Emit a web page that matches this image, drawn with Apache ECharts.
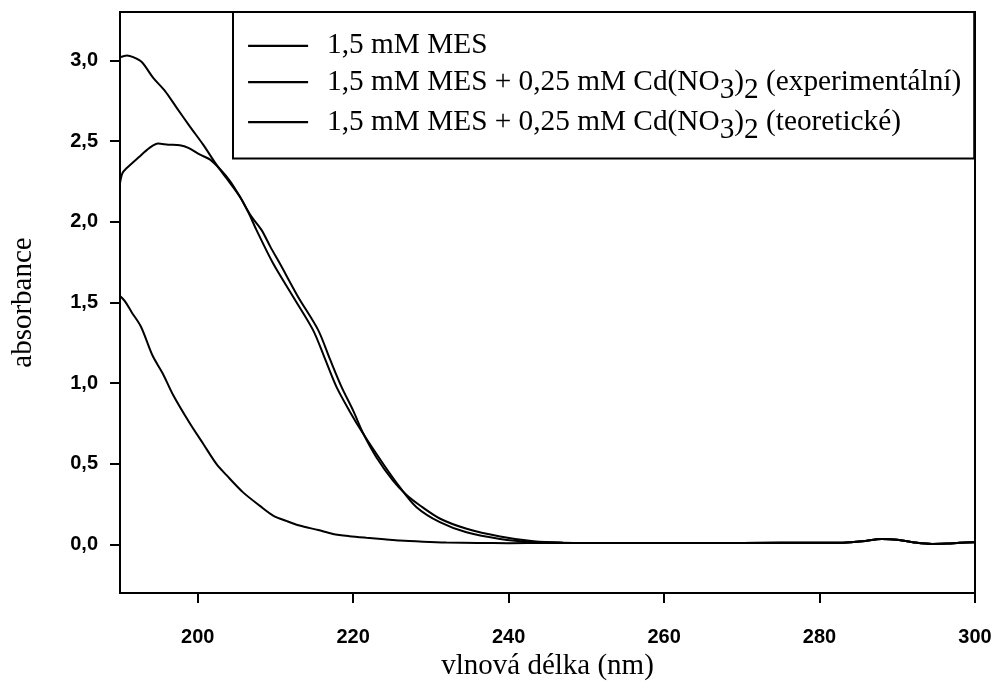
<!DOCTYPE html>
<html>
<head>
<meta charset="utf-8">
<script src="https://cdn.jsdelivr.net/npm/echarts@6/dist/echarts.min.js"></script>
<style>html,body{margin:0;padding:0;background:#fff}#c{width:1000px;height:692px}</style>
</head>
<body>
<div id="c"></div>
<script>
// ---- data ----
const seriesNames = [
  '1,5 mM MES',
  '1,5 mM MES + 0,25 mM Cd(NO3)2 (experimentální)',
  '1,5 mM MES + 0,25 mM Cd(NO3)2 (teoretické)'
];
const mesX = [190.0,190.6,191.5,192.7,194.2,195.5,196.8,199.0,200.7,202.4,203.7,205.8,208.0,209.7,211.5,213.1,215.5,217.4,219.5,221.7,224.0,226.0,229.0,232.0,236.0,240.0,245,255,265,275,283,285.5,288,290,292,294.5,296.5,298,300];
const mesY = [1.54,1.51,1.44,1.35,1.17,1.06,0.93,0.75,0.625,0.50,0.43,0.325,0.24,0.18,0.145,0.118,0.09,0.066,0.052,0.042,0.033,0.025,0.018,0.013,0.010,0.009,0.010,0.010,0.010,0.011,0.012,0.02,0.035,0.03,0.015,0.004,0.006,0.012,0.014];
const expX = [190.0,190.3,190.8,192.4,193.8,194.9,196.2,197.7,198.8,200.3,201.6,203.0,204.2,205.5,206.8,208.2,209.4,210.55,212.9,215.5,217.0,218.5,220.0,221.3,223.0,225.1,226.8,228.6,231.2,234.6,238.9,243.2,247,255,265,275,283,285.5,288,290,292,294.5,296.5,298,300];
const expY = [2.24,2.30,2.33,2.40,2.458,2.485,2.478,2.474,2.458,2.416,2.385,2.32,2.25,2.15,2.04,1.95,1.84,1.743,1.536,1.329,1.15,0.977,0.83,0.688,0.54,0.398,0.31,0.242,0.160,0.098,0.050,0.020,0.012,0.010,0.010,0.011,0.012,0.02,0.035,0.03,0.015,0.004,0.006,0.012,0.014];
const teoX = [190.0,190.9,191.7,192.8,194.3,195.8,197.3,199.0,200.7,202.4,203.7,205.4,206.5,207.55,209.69,212.27,214.84,216.3,217.85,219.5,221.27,223.85,226.0,228.15,231.15,234.58,238.9,243.15,247,255,265,275,283,285.5,288,290,292,294.5,296.5,298,300];
const teoY = [3.02,3.03,3.02,2.99,2.89,2.81,2.706,2.59,2.478,2.354,2.27,2.157,2.06,1.95,1.743,1.536,1.329,1.16,0.977,0.83,0.688,0.501,0.356,0.232,0.139,0.076,0.035,0.016,0.012,0.010,0.010,0.011,0.012,0.02,0.035,0.03,0.015,0.004,0.006,0.012,0.014];
const xTicks = [200,220,240,260,280,300];
const yTicks = [0,0.5,1.0,1.5,2.0,2.5,3.0];

const zip = (xs, ys) => xs.map((x, i) => [x, ys[i]]);
const legendRich = {
  '1,5 mM MES': '{f|1,5 mM MES}',
  '1,5 mM MES + 0,25 mM Cd(NO3)2 (experimentální)': '{f|1,5 mM MES + 0,25 mM Cd(NO}{s|3}{a|)}{s|2}{a| (experimentální)}',
  '1,5 mM MES + 0,25 mM Cd(NO3)2 (teoretické)': '{f|1,5 mM MES + 0,25 mM Cd(NO}{s|3}{a|)}{s|2}{a| (teoretické)}'
};

const serif = '"Liberation Serif", "Times New Roman", serif';
const sans = '"Liberation Sans", Arial, sans-serif';
const lineStyle = { color: '#000', width: 2 };
const FS = 29.3;

const chart = echarts.init(document.getElementById('c'), null, { renderer: 'canvas' });
chart.setOption({
  animation: false,
  backgroundColor: '#fff',
  grid: { left: 120, right: 25, top: 12, bottom: 99, show: true, borderColor: '#000', borderWidth: 2, outerBoundsMode: 'none' },
  legend: {
    data: seriesNames,
    orient: 'vertical',
    left: 233, top: 12,
    padding: [15, 13, 14, 14],
    itemGap: -5,
    itemWidth: 60, itemHeight: 47,
    borderColor: '#000', borderWidth: 2,
    backgroundColor: '#fff',
    itemStyle: { opacity: 0 },
    lineStyle: { color: '#000', width: 2.2 },
    formatter: n => legendRich[n],
    textStyle: {
      fontFamily: serif, fontSize: FS, color: '#000',
      rich: {
        f: { fontFamily: serif, fontSize: FS, color: '#000', lineHeight: 47, padding: [0, 0, 0, 14] },
        a: { fontFamily: serif, fontSize: FS, color: '#000', lineHeight: 47 },
        s: { fontFamily: serif, fontSize: FS, color: '#000', lineHeight: 22, padding: [16, 0, 0, 0] }
      }
    }
  },
  xAxis: {
    type: 'value', min: 190, max: 300,
    name: 'vlnová délka (nm)', nameLocation: 'middle', nameGap: 42,
    nameTextStyle: { fontFamily: serif, fontSize: 29, color: '#000' },
    axisLine: { show: true, onZero: false, lineStyle: { color: '#000', width: 2 } },
    axisTick: { show: true, length: 10, lineStyle: { color: '#000', width: 2 }, customValues: xTicks },
    axisLabel: { customValues: xTicks, margin: 34, fontFamily: sans, fontWeight: 'bold', fontSize: 20, color: '#000' },
    splitLine: { show: false }
  },
  yAxis: {
    type: 'value', min: -0.3, max: 3.3,
    name: 'absorbance', nameLocation: 'middle', nameGap: 82,
    nameTextStyle: { fontFamily: serif, fontSize: 29, color: '#000' },
    axisLine: { show: true, onZero: false, lineStyle: { color: '#000', width: 2 } },
    axisTick: { show: true, length: 10, lineStyle: { color: '#000', width: 2 }, customValues: yTicks },
    axisLabel: { customValues: yTicks, margin: 22, fontFamily: sans, fontWeight: 'bold', fontSize: 20, color: '#000',
      formatter: v => v.toFixed(1).replace('.', ',') },
    splitLine: { show: false }
  },
  series: [
    { name: seriesNames[0], type: 'line', data: zip(mesX, mesY), symbol: 'none', smooth: 0.3, lineStyle, itemStyle: { color: '#000' } },
    { name: seriesNames[1], type: 'line', data: zip(expX, expY), symbol: 'none', smooth: 0.3, lineStyle, itemStyle: { color: '#000' } },
    { name: seriesNames[2], type: 'line', data: zip(teoX, teoY), symbol: 'none', smooth: 0.3, lineStyle, itemStyle: { color: '#000' } }
  ]
});
</script>
</body>
</html>
